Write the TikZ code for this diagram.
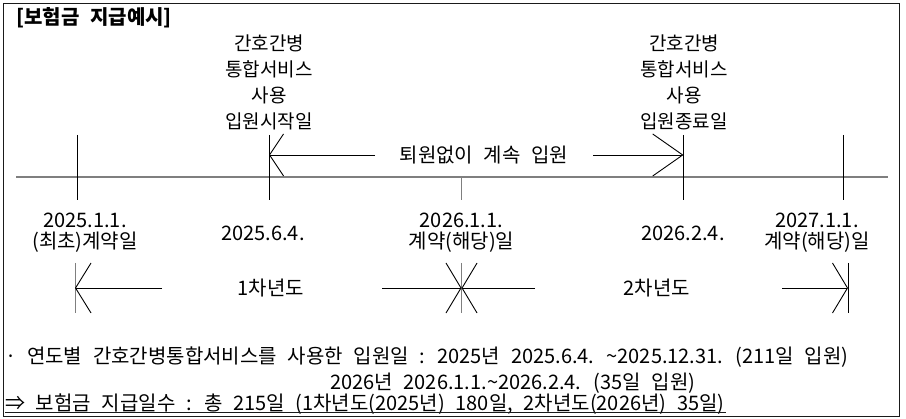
\documentclass[tikz,border=0pt]{standalone}
\usepackage{fontspec}
\setmainfont{Noto Sans CJK KR}[WordSpace=2.4]
\usetikzlibrary{arrows.meta}
\definecolor{AxisGray}{HTML}{7F7F7F}
\definecolor{FrameInk}{HTML}{1A1A1A}

\begin{document}
\begin{tikzpicture}[x=1pt,y=-1pt,
    toplbl/.style={align=center, inner sep=0pt, font=\fontsize{19}{26}\selectfont},
    datelbl/.style={align=center, inner sep=0pt, font=\fontsize{20}{21.5}\selectfont},
    notelbl/.style={anchor=west, inner sep=0pt, font=\fontsize{20}{23}\selectfont},
    timetick/.style={line width=0.9pt, black},
    spanline/.style={line width=0.9pt, black}]
    \useasboundingbox (0,0) rectangle (906,419);

    % Frame
    \draw[FrameInk, line width=0.9pt] (3,3) rectangle (899,416);
    \node[anchor=west, inner sep=0pt, font=\fontsize{20}{23}\selectfont\bfseries] (title) at (16,18) {[보험금 지급예시]};

    % Time axis
    \coordinate (axisL) at (16,177);
    \coordinate (axisR) at (888,177);
    \draw[AxisGray, line width=1.4pt] (axisL) -- (axisR);

    \coordinate (t1top) at (77,135);   \coordinate (t1bot) at (77,200);
    \coordinate (t2top) at (269,135);  \coordinate (t2bot) at (269,200);
    \coordinate (t3top) at (461.5,177);\coordinate (t3bot) at (461.5,200);
    \coordinate (t4top) at (683.5,135);\coordinate (t4bot) at (683.5,200);
    \coordinate (t5top) at (843,135);  \coordinate (t5bot) at (843,200);
    \draw[timetick] (t1top) -- (t1bot);
    \draw[timetick] (t2top) -- (t2bot);
    \draw[AxisGray, line width=0.9pt] (t3top) -- (t3bot);
    \draw[timetick] (t4top) -- (t4bot);
    \draw[timetick] (t5top) -- (t5bot);

    % Service labels above the axis
    \node[toplbl] (startlbl) at (269,82.5) {간호간병\\통합서비스\\사용\\입원시작일};
    \node[toplbl] (endlbl) at (684,82.5) {간호간병\\통합서비스\\사용\\입원종료일};

    % Stay span
    \node[inner sep=2pt, font=\fontsize{20}{23}\selectfont] (stay) at (484,155) {퇴원없이 계속 입원};
    \coordinate (stayL) at (269,155);
    \coordinate (stayR) at (683.5,155);
    \draw[spanline, -{Straight Barb[length=14pt,width=42pt]}] (375,155) -- (stayL);
    \draw[spanline, -{Straight Barb[length=30pt,width=42pt]}] (593,155) -- (stayR);

    % Dates below the axis
    \node[datelbl] (d1) at (85,232.5) {2025.1.1.\\(최초)계약일};
    \node[datelbl] (d2) at (263,233) {2025.6.4.};
    \node[datelbl] (d3) at (461.5,232.5) {2026.1.1.\\계약(해당)일};
    \node[datelbl] (d4) at (683,233) {2026.2.4.};
    \node[datelbl] (d5) at (817,232.5) {2027.1.1.\\계약(해당)일};

    % Policy years
    \coordinate (y1L) at (75,288);
    \coordinate (y1M) at (461.5,288);
    \coordinate (y2R) at (848,288);
    \coordinate (b1top) at (75,263);   \coordinate (b1bot) at (75,313);
    \coordinate (b2top) at (461.5,263);\coordinate (b2bot) at (461.5,313);
    \coordinate (b3top) at (848,263);  \coordinate (b3bot) at (848,313);
    \draw[AxisGray, line width=0.9pt] (b1top) -- (b1bot);
    \draw[AxisGray, line width=0.9pt] (b2top) -- (b2bot);
    \draw[timetick] (b3top) -- (b3bot);
    \node[font=\fontsize{20}{23}\selectfont] (year1) at (271,288) {1차년도};
    \node[font=\fontsize{20}{23}\selectfont] (year2) at (657,288) {2차년도};
    \draw[spanline, -{Straight Barb[length=15.5pt,width=50pt]}] (162,288) -- (y1L);
    \draw[spanline, -{Straight Barb[length=15pt,width=50pt]}] (382,288) -- (y1M);
    \draw[spanline, -{Straight Barb[length=15pt,width=50pt]}] (535,288) -- (y1M);
    \draw[spanline, -{Straight Barb[length=15pt,width=50pt]}] (782,288) -- (y2R);

    % Notes
    \node[notelbl] (note1) at (5,357) {· 연도별 간호간병통합서비스를 사용한 입원일 : 2025년 2025.6.4. \textasciitilde2025.12.31. (211일 입원)};
    \node[notelbl] (note2) at (330,383) {2026년 2026.1.1.\textasciitilde2026.2.4. (35일 입원)};
    \node[notelbl] (note3) at (5,404) {⇒ 보험금 지급일수 : 총 215일 (1차년도(2025년) 180일, 2차년도(2026년) 35일)};
    \draw[FrameInk, line width=0.9pt] (5,412) -- (726,412);
\end{tikzpicture}
\end{document}
